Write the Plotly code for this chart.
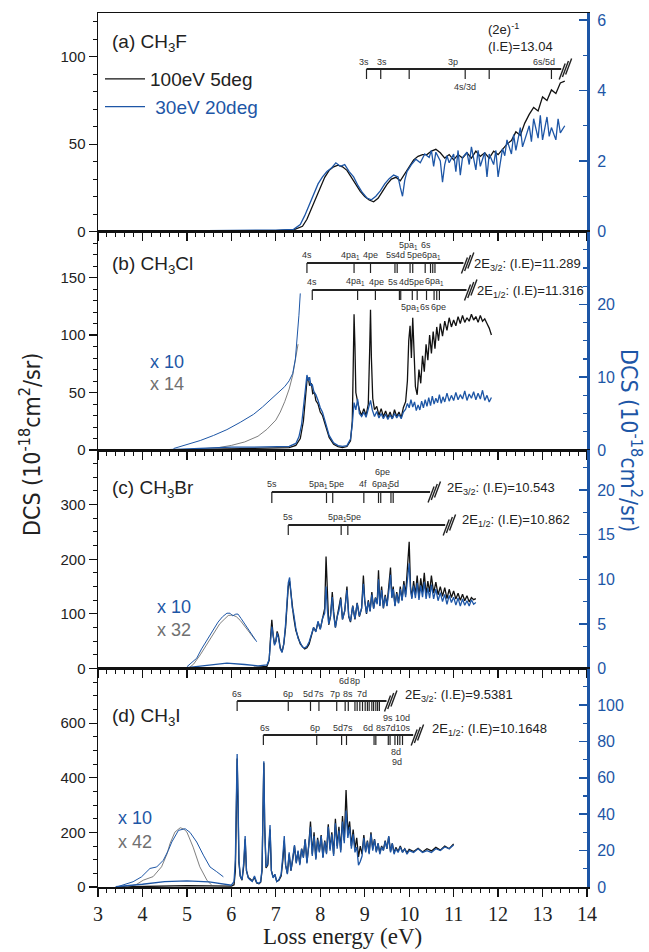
import plotly.graph_objects as go

# ---------------- data ----------------
# Panel (a) CH3F
a_black_x = [4.9, 5.5, 6.0, 6.5, 7.0, 7.4, 7.6, 7.7, 7.8, 7.9,
             8.0, 8.1, 8.2, 8.3, 8.4, 8.5, 8.6, 8.7, 8.8, 8.9,
             9.0, 9.1, 9.2, 9.3, 9.4, 9.5, 9.6, 9.7, 9.8, 9.9,
             10.0, 10.1, 10.2, 10.3, 10.4, 10.5, 10.6, 10.7, 10.8, 10.9,
             11.0, 11.1, 11.2, 11.3, 11.4, 11.5, 11.6, 11.7, 11.8, 11.9,
             12.0, 12.1, 12.2, 12.3, 12.4, 12.5, 12.6, 12.7, 12.8, 12.9,
             13.0, 13.1, 13.2, 13.3, 13.4, 13.5]
a_black_y = [0, 0, 0.3, 0.5, 0.5, 1, 3, 7, 13, 20,
             26, 31, 35, 37, 38, 37, 35, 31, 27, 23,
             20, 18, 17, 19, 23, 27, 30, 31, 29, 33,
             37, 41, 43, 44, 44, 46, 47, 45, 42, 44,
             41, 44, 42, 45, 42, 46, 43, 45, 42, 46,
             44, 47, 50, 52, 57, 55, 62, 67, 71, 69,
             77, 75, 81, 79, 85, 86]
a_blue_x = [4.9, 5.5, 6.0, 6.5, 7.0, 7.4, 7.55, 7.65, 7.75, 7.85,
            7.95, 8.05, 8.15, 8.25, 8.35, 8.45, 8.55, 8.65, 8.75, 8.85,
            8.95, 9.05, 9.15, 9.25, 9.35, 9.45, 9.55, 9.65, 9.75, 9.8,
            9.85, 9.9, 9.95, 10.05, 10.15, 10.25, 10.35, 10.45, 10.5, 10.55,
            10.6, 10.7, 10.75, 10.8, 10.85, 10.9, 11.0, 11.05, 11.1, 11.15,
            11.2, 11.3, 11.35, 11.4, 11.5, 11.55, 11.6, 11.7, 11.75, 11.8,
            11.9, 11.95, 12.0, 12.1, 12.15, 12.2, 12.3, 12.35, 12.4, 12.5,
            12.55, 12.6, 12.7, 12.75, 12.8, 12.9, 12.95, 13.0, 13.1, 13.15,
            13.2, 13.3, 13.35, 13.4, 13.5]
a_blue_y = [0.02, 0.02, 0.03, 0.03, 0.04, 0.06, 0.2, 0.45, 0.75, 1.1,
            1.35, 1.55, 1.7, 1.8, 1.95, 1.85, 1.9, 1.7, 1.55, 1.3,
            1.1, 0.95, 0.9, 1.0, 1.15, 1.35, 1.5, 1.6, 1.55, 1.25,
            1.0, 1.45, 1.7, 1.9, 2.05, 1.95, 2.2, 2.1, 2.3, 1.85,
            2.25, 2.0, 1.4, 1.9, 2.15, 1.95, 2.2, 1.7, 2.3, 1.6,
            2.1, 2.25, 1.9, 2.4, 1.75, 2.3, 1.85, 2.25, 1.55, 2.2,
            1.9, 2.3, 1.55, 2.35, 2.15, 2.6, 2.2, 2.75, 2.3, 2.95,
            2.4, 2.6, 3.0, 2.55, 3.2, 2.65, 3.3, 2.6, 3.25, 2.7,
            2.95, 2.6, 3.2, 2.8, 3.0]

# Panel (b) CH3Cl
b_black_x = [4.6, 5.0, 5.5, 6.0, 6.5, 7.0, 7.3, 7.45, 7.55, 7.62,
             7.66, 7.70, 7.73, 7.76, 7.80, 7.83, 7.87, 7.90, 7.95, 8.00,
             8.05, 8.10, 8.15, 8.20, 8.30, 8.40, 8.50, 8.60, 8.68, 8.72,
             8.74, 8.76, 8.78, 8.80, 8.84, 8.88, 8.93, 8.98, 9.03, 9.08,
             9.11, 9.13, 9.15, 9.18, 9.22, 9.27, 9.32, 9.37, 9.42, 9.47,
             9.52, 9.57, 9.62, 9.67, 9.72, 9.77, 9.82, 9.87, 9.92, 9.96,
             9.99, 10.02, 10.05, 10.08, 10.11, 10.14, 10.18, 10.22, 10.26, 10.30,
             10.34, 10.38, 10.42, 10.46, 10.50, 10.54, 10.58, 10.62, 10.66, 10.70,
             10.75, 10.80, 10.85, 10.90, 10.95, 11.00, 11.05, 11.10, 11.15, 11.20,
             11.25, 11.30, 11.35, 11.40, 11.45, 11.50, 11.55, 11.60, 11.65, 11.70,
             11.75, 11.80, 11.85]
b_black_y = [0, 0.3, 0.5, 0.8, 1, 1.5, 2, 4, 10, 25,
             45, 60, 63, 56, 58, 49, 50, 43, 40, 33,
             30, 23, 18, 11, 5, 3, 2, 3, 8, 25,
             70, 118, 90, 50, 42, 35, 30, 36, 30, 40,
             85, 122, 80, 45, 35, 38, 30, 36, 29, 34,
             28, 33, 27, 35, 29, 33, 28, 37, 42, 60,
             95, 108, 80, 115, 85, 55, 48, 70, 58, 82,
             68, 92, 78, 100, 84, 103, 88, 107, 95, 110,
             99, 112, 104, 115, 107, 113, 108, 116, 110, 117,
             111, 115, 112, 118, 113, 116, 111, 117, 112, 114,
             110, 106, 100]
b_blue_x = [4.6, 5.0, 5.5, 6.0, 6.5, 7.0, 7.3, 7.45, 7.52, 7.58,
            7.63, 7.67, 7.70, 7.73, 7.76, 7.79, 7.82, 7.86, 7.90, 7.95,
            8.00, 8.05, 8.10, 8.15, 8.20, 8.30, 8.40, 8.50, 8.60, 8.68,
            8.72, 8.76, 8.80, 8.84, 8.88, 8.93, 8.98, 9.03, 9.08, 9.13,
            9.17, 9.22, 9.27, 9.32, 9.37, 9.42, 9.47, 9.52, 9.57, 9.62,
            9.67, 9.72, 9.77, 9.82, 9.87, 9.92, 9.96, 10.00, 10.04, 10.08,
            10.12, 10.16, 10.20, 10.24, 10.28, 10.32, 10.36, 10.40, 10.44, 10.48,
            10.52, 10.56, 10.60, 10.64, 10.68, 10.72, 10.76, 10.80, 10.85, 10.90,
            10.95, 11.00, 11.05, 11.10, 11.15, 11.20, 11.25, 11.30, 11.35, 11.40,
            11.45, 11.50, 11.55, 11.60, 11.65, 11.70, 11.75, 11.80, 11.85]
b_blue_y = [0.05, 0.15, 0.3, 0.4, 0.4, 0.4, 0.5, 0.9, 1.8, 3.5,
            6.5, 9.0, 10.3, 9.5, 10.0, 8.8, 9.0, 7.9, 7.6, 6.8,
            5.8, 5.2, 4.0, 3.0, 2.0, 1.0, 0.6, 0.5, 0.6, 1.5,
            3.5, 6.5, 5.5, 7.0, 5.0, 4.6, 5.2, 4.5, 5.6, 6.8,
            5.5, 4.6, 5.3, 4.4, 5.0, 4.3, 4.9, 4.2, 4.8, 4.3,
            5.0, 4.4, 4.9, 4.3, 5.2, 5.6, 6.4, 5.8, 6.9, 5.9,
            6.6, 5.4, 6.2, 5.5, 6.7, 5.8, 6.9, 6.0, 7.2, 6.1,
            7.4, 6.3, 7.1, 6.5, 7.6, 6.4, 7.3, 6.6, 7.8, 6.7,
            7.5, 6.8, 7.9, 6.9, 7.6, 7.0, 8.1, 6.8, 7.7, 7.1,
            8.0, 6.9, 7.8, 7.0, 8.2, 6.8, 7.5, 6.6, 7.2]
b_x14_x = [4.9, 5.3, 5.7, 6.0, 6.3, 6.6, 6.8, 7.0, 7.1, 7.2, 7.3, 7.38, 7.45, 7.5]
b_x14_y = [0, 1, 2, 4, 7, 12, 18, 26, 33, 42, 53, 65, 80, 92]
b_x10_x = [4.7, 5.0, 5.3, 5.6, 5.9, 6.2, 6.5, 6.7, 6.9, 7.05, 7.2, 7.3, 7.38, 7.44, 7.48, 7.52, 7.55]
b_x10_y = [0.2, 0.7, 1.3, 2.0, 2.8, 3.8, 4.9, 5.9, 7.0, 7.8, 8.7, 9.5, 10.5, 12.5, 15.0, 18.5, 21.5]

# Panel (c) CH3Br
c_black_x = [5.0, 5.5, 6.0, 6.5, 6.8, 6.85, 6.88, 6.91, 6.94, 6.97,
             7.00, 7.03, 7.06, 7.10, 7.14, 7.18, 7.22, 7.25, 7.28, 7.31,
             7.34, 7.37, 7.40, 7.45, 7.50, 7.55, 7.60, 7.65, 7.70, 7.75,
             7.80, 7.85, 7.90, 7.95, 8.00, 8.05, 8.10, 8.13, 8.16, 8.19,
             8.23, 8.27, 8.30, 8.34, 8.38, 8.42, 8.46, 8.50, 8.55, 8.60,
             8.64, 8.68, 8.73, 8.78, 8.83, 8.88, 8.93, 8.97, 9.00, 9.04,
             9.08, 9.12, 9.16, 9.20, 9.24, 9.28, 9.31, 9.34, 9.38, 9.42,
             9.46, 9.50, 9.54, 9.58, 9.61, 9.64, 9.68, 9.72, 9.76, 9.80,
             9.84, 9.88, 9.92, 9.96, 10.00, 10.03, 10.06, 10.10, 10.14, 10.18,
             10.22, 10.26, 10.30, 10.34, 10.38, 10.42, 10.46, 10.50, 10.55, 10.60,
             10.65, 10.70, 10.75, 10.80, 10.85, 10.90, 10.95, 11.00, 11.05, 11.10,
             11.15, 11.20, 11.25, 11.30, 11.35, 11.40, 11.45, 11.50]
c_black_y = [0.5, 1, 1.5, 2, 4, 15, 55, 89, 60, 45,
             50, 68, 60, 38, 30, 45, 75, 120, 150, 160,
             135, 110, 95, 70, 55, 45, 40, 36, 38, 45,
             60, 75, 68, 85, 72, 90, 110, 205, 120, 80,
             95, 140, 105, 75, 95, 110, 130, 90, 105, 150,
             95, 85, 115, 90, 120, 95, 110, 170, 125, 100,
             125, 105, 140, 110, 130, 120, 180, 115, 150, 110,
             135, 115, 145, 185, 130, 150, 115, 140, 120, 150,
             125, 160, 135, 175, 232, 150, 130, 160, 135, 170,
             130, 165, 140, 175, 135, 160, 140, 170, 138, 158,
             135, 150, 132, 148, 128, 145, 130, 142, 127, 138,
             125, 136, 124, 133, 122, 130, 126, 128]
c_blue_x = [5.0, 5.5, 5.9, 6.3, 6.6, 6.8, 6.85, 6.88, 6.91, 6.94,
            6.97, 7.00, 7.03, 7.06, 7.10, 7.14, 7.18, 7.22, 7.25, 7.28,
            7.31, 7.34, 7.37, 7.40, 7.45, 7.50, 7.55, 7.60, 7.65, 7.70,
            7.75, 7.80, 7.85, 7.90, 7.95, 8.00, 8.05, 8.10, 8.13, 8.16,
            8.19, 8.23, 8.27, 8.30, 8.34, 8.38, 8.42, 8.46, 8.50, 8.55,
            8.60, 8.64, 8.68, 8.73, 8.78, 8.83, 8.88, 8.93, 8.97, 9.00,
            9.04, 9.08, 9.12, 9.16, 9.20, 9.24, 9.28, 9.31, 9.34, 9.38,
            9.42, 9.46, 9.50, 9.54, 9.58, 9.61, 9.64, 9.68, 9.72, 9.76,
            9.80, 9.84, 9.88, 9.92, 9.96, 10.00, 10.03, 10.06, 10.10, 10.14,
            10.18, 10.22, 10.26, 10.30, 10.34, 10.38, 10.42, 10.46, 10.50, 10.55,
            10.60, 10.65, 10.70, 10.75, 10.80, 10.85, 10.90, 10.95, 11.00, 11.05,
            11.10, 11.15, 11.20, 11.25, 11.30, 11.35, 11.40, 11.45, 11.50]
c_blue_y = [0.1, 0.35, 0.6, 0.45, 0.3, 0.4, 1.0, 3.0, 4.7, 3.8,
            2.6, 3.0, 4.0, 3.4, 2.2, 1.8, 2.8, 5.0, 8.0, 9.6,
            10.2, 8.8, 6.8, 6.2, 4.5, 3.4, 2.8, 2.4, 2.3, 2.5,
            3.0, 3.8, 4.6, 4.1, 5.3, 4.4, 5.6, 6.2, 9.2, 6.5,
            5.0, 5.9, 8.0, 6.0, 4.6, 5.8, 6.5, 7.8, 5.5, 6.5,
            8.8, 5.9, 5.3, 7.0, 5.6, 7.3, 5.9, 6.8, 9.5, 7.6,
            6.2, 7.5, 6.4, 8.3, 6.7, 7.9, 7.2, 10.0, 7.0, 8.8,
            6.8, 8.1, 7.0, 8.6, 10.5, 7.9, 8.9, 7.0, 8.4, 7.3,
            8.9, 7.6, 9.4, 8.0, 9.9, 11.8, 8.8, 7.8, 9.3, 7.9,
            9.6, 7.7, 9.3, 8.0, 9.7, 7.8, 9.0, 7.9, 9.4, 7.8,
            8.9, 7.6, 8.5, 7.5, 8.3, 7.2, 8.2, 7.4, 8.0, 7.1,
            7.9, 7.0, 7.8, 7.1, 7.6, 7.0, 7.7, 7.2, 7.4]
c_x32_x = [5.03, 5.15, 5.3, 5.42, 5.52, 5.63, 5.74, 5.84, 5.93, 6.02, 6.11, 6.2, 6.28, 6.35, 6.45, 6.53]
c_x32_y = [0, 8, 25, 40, 55, 68, 82, 90, 97, 98, 95, 88, 80, 73, 62, 53]
c_x10_x = [5.0, 5.1, 5.22, 5.33, 5.45, 5.57, 5.70, 5.80, 5.9, 5.97, 6.03, 6.1, 6.15, 6.22, 6.3, 6.4, 6.5, 6.57]
c_x10_y = [0.2, 0.6, 1.15, 2.2, 3.2, 4.2, 5.2, 5.8, 6.2, 6.2, 5.9, 6.1, 6.1, 5.6, 5.0, 4.4, 3.6, 3.0]

# Panel (d) CH3I
d_black_x = [3.4, 4.0, 4.5, 5.0, 5.5, 5.8, 6.0, 6.06, 6.09, 6.11,
             6.13, 6.15, 6.17, 6.20, 6.24, 6.28, 6.31, 6.34, 6.38, 6.42,
             6.47, 6.52, 6.57, 6.62, 6.66, 6.69, 6.71, 6.73, 6.75, 6.78,
             6.82, 6.85, 6.87, 6.90, 6.94, 6.98, 7.02, 7.07, 7.12, 7.16,
             7.19, 7.22, 7.26, 7.30, 7.34, 7.38, 7.42, 7.46, 7.50, 7.54,
             7.58, 7.62, 7.66, 7.70, 7.74, 7.78, 7.82, 7.86, 7.90, 7.94,
             7.98, 8.02, 8.06, 8.10, 8.14, 8.18, 8.22, 8.26, 8.30, 8.34,
             8.38, 8.42, 8.46, 8.50, 8.54, 8.58, 8.62, 8.66, 8.70, 8.74,
             8.78, 8.82, 8.86, 8.90, 8.94, 8.98, 9.02, 9.06, 9.10, 9.14,
             9.18, 9.22, 9.26, 9.30, 9.34, 9.38, 9.42, 9.46, 9.50, 9.54,
             9.58, 9.62, 9.66, 9.70, 9.75, 9.80, 9.85, 9.90, 9.95, 10.00,
             10.1, 10.2, 10.3, 10.4, 10.5, 10.6, 10.7, 10.8, 10.9, 11.0]
d_black_y = [0, 2, 4, 5, 4, 3, 3, 8, 60, 250,
             470, 300, 90, 40, 25, 80, 175, 60, 35, 30,
             22, 35, 15, 12, 18, 60, 280, 455, 220, 70,
             80, 160, 210, 60, 35, 45, 20, 25, 40, 100,
             170, 80, 50, 120, 60, 100, 150, 90, 130, 85,
             140, 110, 175, 90, 150, 240, 120, 200, 105, 180,
             130, 190, 110, 170, 125, 230, 140, 200, 120, 250,
             150, 220, 135, 260, 170, 355, 200, 240, 150, 210,
             140, 180, 110, 150, 120, 190, 130, 170, 125, 200,
             140, 175, 130, 160, 125, 150, 135, 170, 140, 185,
             130, 160, 125, 145, 130, 150, 128, 140, 125, 138,
             130, 142, 128, 140, 132, 145, 135, 150, 140, 158]
d_blue_x = list(d_black_x)
d_blue_y = [0.2, 1.5, 3.0, 3.4, 2.8, 1.6, 1.0, 3, 15, 45,
            73, 50, 15, 6, 4, 14, 28, 9, 5, 4,
            3, 6, 2.5, 2, 3, 10, 45, 69, 34, 11,
            13, 27, 34, 9, 5, 7, 3, 4, 7, 18,
            28, 12, 7, 19, 9, 16, 23, 13, 20, 12,
            21, 16, 26, 13, 22, 33, 17, 28, 15, 26,
            19, 28, 16, 25, 18, 33, 20, 29, 17, 35,
            21, 31, 19, 36, 24, 42, 27, 33, 21, 29,
            19, 22, 12, 14, 17, 27, 19, 25, 18, 29,
            20, 26, 19, 24, 18, 22, 20, 25, 21, 28,
            19, 24, 18, 21, 19, 22, 19, 21, 18, 20,
            19, 21, 19, 20, 19, 21, 20, 22, 21, 23]
d_x42_x = [3.6, 3.85, 4.02, 4.24, 4.43, 4.55, 4.62, 4.73, 4.85, 4.93, 5.0, 5.14, 5.29, 5.45, 5.55]
d_x42_y = [0, 8, 25, 38, 74, 120, 159, 201, 217, 212, 201, 146, 74, 25, 8]
d_x10_x = [3.42, 3.79, 3.98, 4.17, 4.32, 4.47, 4.58, 4.66, 4.81, 4.96, 5.07, 5.22, 5.37, 5.52, 5.67, 5.82]
d_x10_y = [0, 2.9, 5.6, 10.2, 11, 14.7, 20, 24.7, 31.1, 32, 30, 24.7, 17.5, 11, 8.4, 5.6]

# ---- level assignments (energies in eV) ----
a_ticks = [9.04, 9.36, 10.0, 11.26, 11.80, 13.20]
a_span = [9.04, 13.42]
a_lab_above = [("3s", 8.98), ("3s", 9.39), ("3p", 10.99), ("6s/5d", 13.03)]
a_lab_below = [("4s/3d", 11.26)]

b32_ticks = [7.70, 8.76, 9.13, 9.68, 9.73, 10.02, 10.08, 10.36, 10.48, 10.53, 10.58]
b32_span = [7.70, 11.22]
b32_lab = [("4s", 7.70), ("4pa<sub>1</sub>", 8.69), ("4pe", 9.13), ("5s", 9.59), ("4d", 9.79),
           ("5pe", 10.13), ("6pa<sub>1</sub>", 10.51)]
b32_lab_up = [("5pa<sub>1</sub>", 9.98), ("6s", 10.37)]
b12_ticks = [7.82, 8.84, 9.24, 9.78, 9.81, 10.07, 10.18, 10.39, 10.56, 10.62, 10.68]
b12_span = [7.82, 11.29]
b12_lab = [("4s", 7.81), ("4pa<sub>1</sub>", 8.79), ("4pe", 9.27), ("5s", 9.64), ("4d", 9.88),
           ("5pe", 10.17), ("6pa<sub>1</sub>", 10.58)]
b12_lab_dn = [("5pa<sub>1</sub>", 10.04), ("6s", 10.36), ("6pe", 10.67)]

c32_ticks = [6.91, 8.14, 8.28, 8.98, 9.31, 9.36, 9.59, 9.64]
c32_span = [6.91, 10.47]
c32_lab = [("5s", 6.91), ("5pa<sub>1</sub>", 7.96), ("5pe", 8.36), ("4f", 8.95), ("6pa<sub>1</sub>", 9.38), ("5d", 9.66)]
c32_lab_up = [("6pe", 9.40)]
c12_ticks = [7.28, 8.47, 8.62]
c12_span = [7.28, 10.81]
c12_lab = [("5s", 7.28), ("5pa<sub>1</sub>", 8.38), ("5pe", 8.74)]

d32_ticks = [6.13, 7.28, 7.78, 7.97, 8.37, 8.56, 8.63, 8.78, 8.83, 8.89, 8.95, 9.01,
             9.06, 9.10, 9.16, 9.20, 9.25, 9.29, 9.33]
d32_span = [6.13, 9.49]
d32_lab = [("6s", 6.12), ("6p", 7.27), ("5d", 7.73), ("7s", 7.98), ("7p", 8.33), ("8s", 8.63), ("7d", 8.93)]
d32_lab_up = [("6d", 8.53), ("8p", 8.78)]
d12_ticks = [6.72, 7.92, 8.48, 8.59, 9.21, 9.25, 9.53, 9.57, 9.68, 9.74, 9.79, 9.85]
d12_span = [6.72, 10.09]
d12_lab = [("6s", 6.76), ("6p", 7.88), ("5d7s", 8.52), ("6d", 9.07), ("8s7d10s", 9.64)]
d12_lab_up = [("9s 10d", 9.72)]
d12_lab_dn = [("8d", 9.70)]
d12_lab_dn2 = [("9d", 9.73)]

# ---------------- figure ----------------
W, H = 649, 952
ML, MR, MT, MB = 98, 62, 13, 65
PW = W - ML - MR
PH = H - MT - MB


def px_x(px):
    return (px - ML) / PW


def px_y(py):
    return (H - MB - py) / PH


def e_x(e):
    return (e - 3.0) / 11.0


BLACK = "#111111"
BLUE = "#1d56a6"
GRAY = "#707070"
SANS = "Liberation Sans, Arial, sans-serif"
SERIF = "Liberation Serif, Times New Roman, serif"
NARROW = "Liberation Sans Narrow, Arial Narrow, DejaVu Sans Condensed, sans-serif"

fig = go.Figure()


def add(x, y, xa, ya, color, width=1.2, name=None, legend=False):
    fig.add_trace(go.Scatter(x=x, y=y, xaxis=xa, yaxis=ya, mode="lines",
                             line=dict(color=color, width=width),
                             name=name, showlegend=legend, hoverinfo="skip"))


add(a_black_x, a_black_y, "x", "y", BLACK, 1.3, "100eV 5deg", True)
add(a_blue_x, a_blue_y, "x", "y2", BLUE, 1.3,
    "<span style='color:%s'> 30eV 20deg</span>" % BLUE, True)

add(b_black_x, b_black_y, "x2", "y3", BLACK, 1.3)
add(b_x14_x, b_x14_y, "x2", "y3", GRAY, 0.9)
add(b_blue_x, b_blue_y, "x2", "y4", BLUE, 1.3)
add(b_x10_x, b_x10_y, "x2", "y4", BLUE, 1.0)

add(c_black_x, c_black_y, "x3", "y5", BLACK, 1.3)
add(c_x32_x, c_x32_y, "x3", "y5", GRAY, 0.9)
add(c_blue_x, c_blue_y, "x3", "y6", BLUE, 1.3)
add(c_x10_x, c_x10_y, "x3", "y6", BLUE, 1.0)

add(d_black_x, d_black_y, "x4", "y7", BLACK, 1.3)
add(d_x42_x, d_x42_y, "x4", "y7", GRAY, 0.9)
add(d_blue_x, d_blue_y, "x4", "y8", BLUE, 1.3)
add(d_x10_x, d_x10_y, "x4", "y8", BLUE, 1.0)

panels = [
    dict(xa="x", yl="y", yr="y2", dom=[0.75, 1.0], lr=[0, 125], lt=[0, 50, 100], lm=10,
         rr=[0, 6.2], rt=[0, 2, 4, 6], rm=1),
    dict(xa="x2", yl="y3", yr="y4", dom=[0.5, 0.75], lr=[0, 190], lt=[0, 50, 100, 150], lm=10,
         rr=[0, 30], rt=[0, 10, 20], rm=2.5),
    dict(xa="x3", yl="y5", yr="y6", dom=[0.25, 0.5], lr=[0, 400], lt=[0, 100, 200, 300], lm=25,
         rr=[0, 24.5], rt=[0, 5, 10, 15, 20], rm=2.5),
    dict(xa="x4", yl="y7", yr="y8", dom=[0.0, 0.25], lr=[0, 800], lt=[0, 200, 400, 600], lm=50,
         rr=[0, 120], rt=[0, 20, 40, 60, 80, 100], rm=10),
]


def axname(a):
    return ("xaxis" if a[0] == "x" else "yaxis") + a[1:]


lay = {}
for i, p in enumerate(panels):
    last = i == len(panels) - 1
    xa = dict(domain=[0, 1], range=[3, 14], anchor=p["yl"], showline=True, mirror=True,
              linecolor=BLACK, linewidth=1.5, ticks="outside", ticklen=8, tickwidth=1.2,
              tickcolor=BLACK, tick0=3, dtick=1, showgrid=False, zeroline=False,
              showticklabels=last, tickfont=dict(family=SERIF, size=20, color="#222"),
              minor=dict(dtick=0.2, tick0=3, ticklen=4, ticks="outside", tickcolor=BLACK, tickwidth=1),
              fixedrange=True)
    if i > 0:
        xa["matches"] = "x"
    lay[axname(p["xa"])] = xa
    lay[axname(p["yl"])] = dict(domain=p["dom"], range=p["lr"], anchor=p["xa"], showline=True,
                                linecolor=BLACK, linewidth=1.5, ticks="outside", ticklen=8,
                                tickwidth=1.2, tickcolor=BLACK, tickmode="array", tickvals=p["lt"],
                                minor=dict(tickmode="linear", tick0=0, dtick=p["lm"], ticklen=4,
                                           ticks="outside", tickcolor=BLACK, tickwidth=1),
                                showgrid=False, zeroline=False, fixedrange=True,
                                tickfont=dict(family=SANS, size=15, color="#222"))
    lay[axname(p["yr"])] = dict(overlaying=p["yl"], side="right", anchor=p["xa"], range=p["rr"],
                                showline=True, linecolor=BLUE, linewidth=3, ticks="inside",
                                ticklen=8, tickwidth=1.5, tickcolor=BLUE, tickmode="array",
                                tickvals=p["rt"],
                                minor=dict(tickmode="linear", tick0=0, dtick=p["rm"], ticklen=4,
                                           ticks="inside", tickcolor=BLUE, tickwidth=1.2),
                                showgrid=False, zeroline=False, ticklabelstandoff=4,
                                fixedrange=True,
                                tickfont=dict(family=SANS, size=16, color=BLUE))

shapes = []
annots = []


def level_block(ticks, span, y_line, tick_len, labels, y_lab, up=None, y_up=None,
                dn=None, y_dn=None, dn2=None, y_dn2=None, text=None, text_px=None):
    yl = px_y(y_line)
    yb = px_y(y_line + tick_len)
    shapes.append(dict(type="line", xref="paper", yref="paper", x0=e_x(span[0]), x1=e_x(span[1]),
                       y0=yl, y1=yl, line=dict(color="#222", width=1.8)))
    for t in ticks:
        shapes.append(dict(type="line", xref="paper", yref="paper", x0=e_x(t), x1=e_x(t),
                           y0=yl, y1=yb, line=dict(color="#222", width=1.2)))
    # break mark at the end of the series line
    xe = ML + e_x(span[1]) * PW
    for k in range(3):
        x0 = xe - 2 + 3.2 * k
        shapes.append(dict(type="line", xref="paper", yref="paper",
                           x0=px_x(x0), x1=px_x(x0 + 6), y0=px_y(y_line + 8 - 2.5 * k + 2.5),
                           y1=px_y(y_line - 8 - 2.5 * k + 2.5), line=dict(color="#222", width=1.4)))
    groups = [(labels, y_lab), (up, y_up), (dn, y_dn), (dn2, y_dn2)]
    for grp, yy in groups:
        if not grp:
            continue
        for s, e in grp:
            annots.append(dict(text=s, x=e_x(e), y=px_y(yy), xref="paper", yref="paper",
                               showarrow=False, xanchor="center", yanchor="middle",
                               font=dict(family=SANS, size=9, color="#333")))
    if text:
        annots.append(dict(text=text, x=px_x(text_px[0]), y=px_y(text_px[1]), xref="paper",
                           yref="paper", showarrow=False, xanchor="left", yanchor="middle",
                           font=dict(family=SANS, size=13, color="#222")))


level_block(a_ticks, a_span, 69, 10, a_lab_above, 62, dn=a_lab_below, y_dn=87)
level_block(b32_ticks, b32_span, 263, 10, b32_lab, 255, up=b32_lab_up, y_up=245,
            text="2E<sub>3/2</sub>: (I.E)=11.289", text_px=(472, 264))
level_block(b12_ticks, b12_span, 290, 10, b12_lab, 282, dn=b12_lab_dn, y_dn=307,
            text="2E<sub>1/2</sub>: (I.E)=11.316", text_px=(475, 291))
level_block(c32_ticks, c32_span, 492, 11, c32_lab, 484, up=c32_lab_up, y_up=472,
            text="2E<sub>3/2</sub>: (I.E)=10.543", text_px=(445, 488))
level_block(c12_ticks, c12_span, 525, 10, c12_lab, 517,
            text="2E<sub>1/2</sub>: (I.E)=10.862", text_px=(460, 520))
level_block(d32_ticks, d32_span, 701, 10, d32_lab, 694, up=d32_lab_up, y_up=681,
            text="2E<sub>3/2</sub>: (I.E)=9.5381", text_px=(403, 695))
level_block(d12_ticks, d12_span, 735, 10, d12_lab, 728, up=d12_lab_up, y_up=718,
            dn=d12_lab_dn, y_dn=752, dn2=d12_lab_dn2, y_dn2=762,
            text="2E<sub>1/2</sub>: (I.E)=10.1648", text_px=(430, 729))

# ionisation energy note for CH3F
annots.append(dict(text="(2e)<sup>-1</sup>", x=px_x(486), y=px_y(29), xref="paper", yref="paper",
                   showarrow=False, xanchor="left", yanchor="middle",
                   font=dict(family=SANS, size=13, color="#222")))
annots.append(dict(text="(I.E)=13.04", x=px_x(486), y=px_y(46), xref="paper", yref="paper",
                   showarrow=False, xanchor="left", yanchor="middle",
                   font=dict(family=SANS, size=13, color="#222")))

# panel names
for txt, py in [("(a) CH<sub>3</sub>F", 43), ("(b) CH<sub>3</sub>Cl", 265),
                ("(c) CH<sub>3</sub>Br", 489), ("(d) CH<sub>3</sub>I", 717)]:
    annots.append(dict(text=txt, x=px_x(110), y=px_y(py), xref="paper", yref="paper",
                       showarrow=False, xanchor="left", yanchor="middle",
                       font=dict(family=SANS, size=19, color="#222")))

# scale factors
for txt, col, px, py in [("x 10", BLUE, 148, 362), ("x 14", GRAY, 148, 384),
                         ("x 10", BLUE, 155, 607), ("x 32", GRAY, 155, 630),
                         ("x 10", BLUE, 116, 818), ("x 42", GRAY, 116, 842)]:
    annots.append(dict(text=txt, x=px_x(px), y=px_y(py), xref="paper", yref="paper",
                       showarrow=False, xanchor="left", yanchor="middle",
                       font=dict(family=SANS, size=18, color=col)))

# axis titles
annots.append(dict(text="DCS (10<sup>-18</sup>cm<sup>2</sup>/sr)", x=px_x(30), y=px_y(445),
                   xref="paper", yref="paper", showarrow=False, textangle=-90,
                   xanchor="center", yanchor="middle",
                   font=dict(family=NARROW, size=23, color="#222")))
annots.append(dict(text="DCS (10<sup>-18</sup>cm<sup>2</sup>/sr)", x=px_x(631), y=px_y(440),
                   xref="paper", yref="paper", showarrow=False, textangle=90,
                   xanchor="center", yanchor="middle",
                   font=dict(family=NARROW, size=23, color=BLUE)))
annots.append(dict(text="Loss energy (eV)", x=0.5, y=px_y(937), xref="paper", yref="paper",
                   showarrow=False, xanchor="center", yanchor="middle",
                   font=dict(family=SERIF, size=23, color="#222")))

fig.update_layout(
    width=W, height=H, margin=dict(l=ML, r=MR, t=MT, b=MB, autoexpand=False),
    paper_bgcolor="white", plot_bgcolor="white",
    showlegend=True, hovermode=False, dragmode=False,
    legend=dict(x=px_x(100), y=px_y(60), xanchor="left", yanchor="top",
                font=dict(family=SANS, size=19, color="#222"), bgcolor="rgba(0,0,0,0)",
                itemwidth=40, tracegroupgap=0),
    shapes=shapes, annotations=annots,
    **lay,
)

fig.write_html("out.html", config={"displayModeBar": False, "staticPlot": True},
               post_script="document.body.style.margin='0px';"
                           "document.documentElement.style.overflow='hidden';")
